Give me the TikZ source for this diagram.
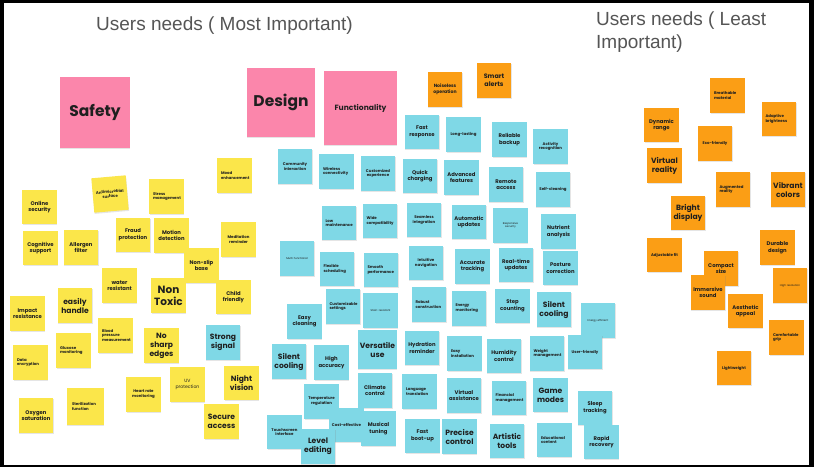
\documentclass[tikz,border=0pt]{standalone}
\usepackage{fontspec}
\usetikzlibrary{shadows}
\newfontfamily\notefont{Poppins}
\newfontfamily\titlefont{Liberation Sans}
\definecolor{ynote}{HTML}{FBE64A}
\definecolor{cnote}{HTML}{7FD8E6}
\definecolor{onote}{HTML}{FB9E15}
\definecolor{pnote}{HTML}{FB86AB}
\definecolor{ink}{HTML}{1F1F1F}
\definecolor{tgray}{HTML}{555555}
\tikzset{
 note/.style={minimum width=34.5pt, minimum height=34.5pt, inner sep=0.5pt, align=center, text=ink,
   drop shadow={opacity=0.2, shadow xshift=0.4pt, shadow yshift=-1.2pt}},
 yl/.style={note, fill=ynote}, cn/.style={note, fill=cnote},
 og/.style={note, fill=onote}, pk/.style={note, fill=pnote},
 XL/.style={font=\notefont\bfseries\fontsize{15.5}{17}\selectfont},
 L/.style={font=\notefont\bfseries\fontsize{10.5}{12}\selectfont},
 LL/.style={font=\notefont\bfseries\fontsize{7.6}{9}\selectfont},
 M/.style={font=\notefont\bfseries\fontsize{5.3}{6.6}\selectfont},
 S/.style={font=\notefont\bfseries\fontsize{3.9}{4.7}\selectfont},
 T/.style={font=\notefont\fontsize{2.7}{3.2}\selectfont},
 lf/.style={align=left, text width=27pt},
 title/.style={font=\titlefont\fontsize{19}{22}\selectfont, text=tgray, inner sep=0pt, anchor=base west}
}
\begin{document}
\begin{tikzpicture}[x=1pt,y=-1pt]
\useasboundingbox (0,0) rectangle (814,467);
\fill[black] (0,0) rectangle (814,467);
\fill[white] (4,3) rectangle (809,465);
% titles
\node[title] (t1) at (96,30) {Users needs ( Most Important)};
\node[title] (t2) at (596,25.5) {Users needs ( Least};
\node[title] (t3) at (596,48) {Important)};
% pink headers
\node[pk,XL,minimum width=70pt,minimum height=71pt] (safety) at (95,112.5) {Safety};
\node[pk,XL,minimum width=68pt,minimum height=69pt] (design) at (281,102.5) {Design};
\node[pk,font=\notefont\bfseries\fontsize{7.6}{9}\selectfont,minimum width=73pt,minimum height=74pt] (func) at (360.5,108) {Functionality};
% yellow
\node[yl,M] (y1) at (39.5,207) {Online\\security};
\node[yl,S,rotate=5] (y2) at (110,194) {Antimicrobial\\surface};
\node[yl,M] (y3) at (40.5,248) {Cognitive\\support};
\node[yl,M] (y4) at (81,247.5) {Allergen\\filter};
\node[yl,M] (y5) at (133,235) {Fraud\\protection};
\node[yl,S,lf] (y6) at (166.5,196.5) {Stress\\management};
\node[yl,S,lf] (y7) at (234.5,175.5) {Mood\\enhancement};
\node[yl,M] (y8) at (171.5,235.5) {Motion\\detection};
\node[yl,S] (y9) at (238.5,239.5) {Meditation\\reminder};
\node[yl,M] (y10) at (119.5,285.5) {water\\resistant};
\node[yl,M] (y11) at (201.5,265.5) {Non-slip\\base};
\node[yl,L] (y12) at (168.5,295.5) {Non\\Toxic};
\node[yl,M] (y13) at (233.5,297) {Child\\friendly};
\node[yl,LL] (y14) at (75,305.5) {easily\\handle};
\node[yl,M] (y15) at (27.5,313.5) {Impact\\resistance};
\node[yl,S,lf] (y16) at (115.5,335.5) {Blood\\pressure\\measurement};
\node[yl,S,lf] (y17) at (73.5,350.5) {Glucose\\monitoring};
\node[yl,S,lf] (y18) at (30.5,362.5) {Data\\encryption};
\node[yl,LL] (y19) at (161.5,345.5) {No\\sharp\\edges};
\node[cn,LL] (y20) at (223,342.5) {Strong\\signal};
\node[yl,S] (y21) at (143.5,394.5) {Heart rate\\monitoring};
\node[yl,font=\notefont\fontsize{4.6}{5.8}\selectfont] (y22) at (187.5,384.5) {UV\\protection};
\node[yl,LL] (y23) at (241.5,383) {Night\\vision};
\node[yl,LL] (y24) at (221.5,421.5) {Secure\\access};
\node[yl,S,lf,minimum width=37pt,minimum height=37pt] (y25) at (85.5,406.5) {Sterilization\\function};
\node[yl,M] (y26) at (36,415.5) {Oxygen\\saturation};
% cyan left block
\node[cn,S] (c1) at (295,166.5) {Community\\interaction};
\node[cn,S,lf] (c2) at (336.5,171.5) {Wireless\\connectivity};
\node[cn,S] (c3) at (378,173.5) {Customized\\experience};
\node[cn,S,lf] (c4) at (339,223) {Low\\maintenance};
\node[cn,S,lf] (c5) at (380,221) {Wide\\compatibility};
\node[cn,T] (c6) at (297,258.5) {Multi-functional};
\node[cn,S,lf] (c7) at (337,269) {Flexible\\scheduling};
\node[cn,S,lf] (c8) at (381,270) {Smooth\\performance};
\node[cn,S,lf] (c9) at (343,306.5) {Customizable\\settings};
\node[cn,T] (c10) at (380.5,310.5) {Stain-resistant};
\node[cn,M] (c11) at (304.5,321.5) {Easy\\cleaning};
\node[cn,LL] (c12) at (289,361.5) {Silent\\cooling};
\node[cn,M] (c13) at (331.5,362.5) {High\\accuracy};
\node[cn,LL,minimum width=39pt,minimum height=39pt] (c14) at (377.5,349.5) {Versatile\\use};
\node[cn,M] (c15) at (375,390.5) {Climate\\control};
\node[cn,S] (c16) at (284.5,432) {Touchscreen\\interface};
\node[cn,S] (c17) at (321.5,401.5) {Temperature\\regulation};
\node[cn,S] (c18) at (346.5,425) {Cost-effective};
\node[cn,M] (c19) at (378.5,428.5) {Musical\\tuning};
\node[cn,LL] (c20) at (318,446.5) {Level\\editing};
% orange top
\node[og,font=\notefont\bfseries\fontsize{4.6}{5.8}\selectfont] (o1) at (445,89.5) {Noiseless\\operation};
\node[og,font=\notefont\bfseries\fontsize{6.4}{7.8}\selectfont] (o2) at (494,80.5) {Smart\\alerts};
% cyan right block
\node[cn,M] (d1) at (422,132) {Fast\\response};
\node[cn,S] (d2) at (463.5,134.5) {Long-lasting};
\node[cn,M] (d3) at (509.5,139.5) {Reliable\\backup};
\node[cn,S] (d4) at (550.5,146.5) {Activity\\recognition};
\node[cn,M] (d5) at (420,176) {Quick\\charging};
\node[cn,M] (d6) at (461.5,177.5) {Advanced\\features};
\node[cn,M] (d7) at (506,184.5) {Remote\\access};
\node[cn,S] (d8) at (553,189.5) {Self-cleaning};
\node[cn,S] (d9) at (424,220) {Seamless\\integration};
\node[cn,M] (d10) at (469,222) {Automatic\\updates};
\node[cn,T] (d11) at (510.5,225.5) {Responsive\\security};
\node[cn,M] (d12) at (558.5,231.5) {Nutrient\\analysis};
\node[cn,S] (d13) at (426,263) {Intuitive\\navigation};
\node[cn,M] (d14) at (472.5,266.5) {Accurate\\tracking};
\node[cn,M] (d15) at (516,265) {Real-time\\updates};
\node[cn,M] (d16) at (560.5,268) {Posture\\correction};
\node[cn,S,lf] (d17) at (429,304.5) {Robust\\construction};
\node[cn,S,lf] (d18) at (469,308.5) {Energy\\monitoring};
\node[cn,M] (d19) at (512.5,306) {Step\\counting};
\node[cn,LL] (d20) at (554,309.5) {Silent\\cooling};
\node[cn,T] (d21) at (598,320.5) {Energy efficient};
\node[cn,M] (d22) at (422,348) {Hydration\\reminder};
\node[cn,S,lf] (d23) at (464.5,353.5) {Easy\\installation};
\node[cn,M] (d24) at (504,356) {Humidity\\control};
\node[cn,S,lf] (d25) at (547,353.5) {Weight\\management};
\node[cn,S] (d26) at (585,352) {User-friendly};
\node[cn,S,lf] (d27) at (419.5,391.5) {Language\\translation};
\node[cn,M] (d28) at (464,395.5) {Virtual\\assistance};
\node[cn,S,lf] (d29) at (509,398) {Financial\\management};
\node[cn,LL] (d30) at (550.5,395) {Game\\modes};
\node[cn,M] (d31) at (595,408) {Sleep\\tracking};
\node[cn,M] (d32) at (422.5,436) {Fast\\boot-up};
\node[cn,LL] (d33) at (459.5,436.5) {Precise\\control};
\node[cn,LL] (d34) at (507,441) {Artistic\\tools};
\node[cn,S,lf] (d35) at (554.5,440) {Educational\\content};
\node[cn,M] (d36) at (601.5,442) {Rapid\\recovery};
% orange right
\node[og,S,lf] (r1) at (727.5,95.5) {Breathable\\material};
\node[og,S,lf] (r2) at (779,119) {Adaptive\\brightness};
\node[og,M] (r3) at (661.5,125) {Dynamic\\range};
\node[og,S] (r4) at (715,143.5) {Eco-friendly};
\node[og,LL] (r5) at (664.5,165.5) {Virtual\\reality};
\node[og,S,lf] (r6) at (733,189.5) {Augmented\\reality};
\node[og,LL] (r7) at (788,189.5) {Vibrant\\colors};
\node[og,LL] (r8) at (688,213) {Bright\\display};
\node[og,S] (r9) at (664.5,255) {Adjustable fit};
\node[og,M] (r10) at (777.5,247.5) {Durable\\design};
\node[og,M] (r11) at (721,268.5) {Compact\\size};
\node[og,M] (r12) at (708,292.5) {Immersive\\sound};
\node[og,T] (r13) at (790,285.5) {High resolution};
\node[og,M] (r14) at (745.5,311) {Aesthetic\\appeal};
\node[og,S,lf] (r15) at (786.5,337.5) {Comfortable\\grip};
\node[og,S] (r16) at (734,368) {Lightweight};
\end{tikzpicture}
\end{document}
